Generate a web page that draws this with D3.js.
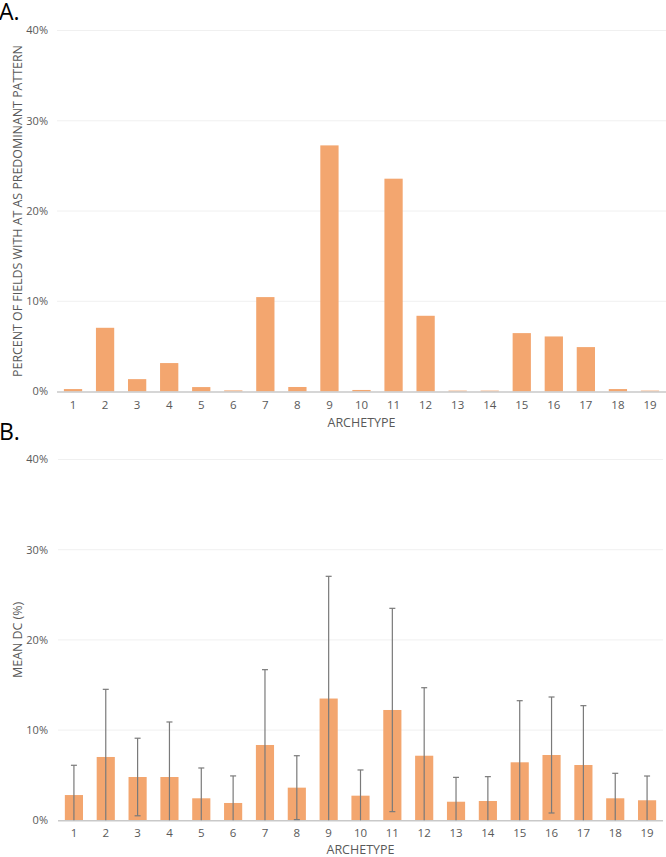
<!DOCTYPE html>
<html><head><meta charset="utf-8">
<script src="https://cdn.jsdelivr.net/npm/d3@7"></script>
<style>body{margin:0;background:#fff}svg{display:block;font-family:"Open Sans",sans-serif}</style>
</head><body>
<svg id="c" width="666" height="857"></svg>
<script>
const archetypes = ["1","2","3","4","5","6","7","8","9","10","11","12","13","14","15","16","17","18","19"];
const pctFields = [0.27,7.06,1.37,3.15,0.49,0.12,10.46,0.5,27.27,0.17,23.58,8.39,0.1,0.1,6.47,6.1,4.92,0.27,0.1];
const meanDC = [2.8,7.02,4.8,4.8,2.44,1.92,8.35,3.62,13.5,2.73,12.23,7.16,2.06,2.14,6.43,7.24,6.13,2.44,2.22];
const errDC = [3.3,7.5,4.3,6.1,3.36,3.0,8.35,3.54,13.55,2.85,11.27,7.54,2.7,2.7,6.83,6.43,6.58,2.77,2.69];
const yTicks = [0,10,20,30,40];

const svg = d3.select("#c");
const barColor = "#F3A66F";

function panel(opt){
  const x = d3.scaleBand().domain(archetypes).range([opt.x0, opt.x1]).paddingInner(0.43).paddingOuter(0.215);
  const y = d3.scaleLinear().domain([0,40]).range([opt.y0, opt.y1]);
  const g = svg.append("g");
  g.selectAll("line.grid").data(yTicks.slice(1)).join("line")
    .attr("x1", opt.x0).attr("x2", opt.x1)
    .attr("y1", d=>y(d)).attr("y2", d=>y(d))
    .attr("stroke","#f0f0f0").attr("stroke-width",1);
  g.selectAll("text.yt").data(yTicks).join("text")
    .attr("x", 48).attr("y", d=>y(d)).attr("dy","0.35em")
    .attr("text-anchor","end").attr("font-size",11).attr("fill","#595959")
    .text(d=>d+"%");
  g.selectAll("rect").data(opt.values).join("rect")
    .attr("x",(d,i)=>x(archetypes[i])).attr("width",x.bandwidth())
    .attr("y",d=>y(d)).attr("height",d=>y(0)-y(d))
    .attr("fill",barColor);
  g.append("line").attr("x1",opt.x0).attr("x2",opt.x1).attr("y1",y(0)+0.5).attr("y2",y(0)+0.5)
    .attr("stroke","#c9c9c9").attr("stroke-width",1.5);
  if(opt.errs){
    const eg = g.selectAll("g.err").data(opt.values).join("g");
    eg.each(function(d,i){
      const cx = x(archetypes[i]) + x.bandwidth()/2;
      const hi = d + opt.errs[i], lo = Math.max(0, d - opt.errs[i]);
      const s = d3.select(this);
      s.append("line").attr("x1",cx).attr("x2",cx).attr("y1",y(hi)).attr("y2",y(lo))
        .attr("stroke","#7a7a7a").attr("stroke-width",1.2);
      s.append("line").attr("x1",cx-3).attr("x2",cx+3).attr("y1",y(hi)).attr("y2",y(hi))
        .attr("stroke","#7a7a7a").attr("stroke-width",1.2);
      if(d - opt.errs[i] > 0.05){
        s.append("line").attr("x1",cx-3).attr("x2",cx+3).attr("y1",y(lo)).attr("y2",y(lo))
          .attr("stroke","#7a7a7a").attr("stroke-width",1.2);
      }
    });
  }
  g.selectAll("text.xt").data(archetypes).join("text")
    .attr("x",d=>x(d)+x.bandwidth()/2).attr("y",opt.tickY).attr("dy","0.35em")
    .attr("text-anchor","middle").attr("font-size",11.5).attr("fill","#595959").text(d=>d);
  g.append("text").attr("x",(opt.x0+opt.x1)/2).attr("y",opt.titleY).attr("dy","0.35em")
    .attr("text-anchor","middle").attr("font-size",12.5).attr("fill","#595959").text("ARCHETYPE");
  g.append("text").attr("transform",`translate(18,${(opt.y0+opt.y1)/2}) rotate(-90)`)
    .attr("text-anchor","middle").attr("dy","0.35em").attr("font-size",12.4).attr("fill","#595959")
    .text(opt.yTitle);
  svg.append("text").attr("x",-1).attr("y",opt.labelY).attr("font-size",23).attr("fill","#000").text(opt.label);
}

panel({x0:57,x1:666,y0:391.5,y1:30.5,values:pctFields,tickY:405,titleY:423,
  yTitle:"PERCENT OF FIELDS  WITH AT AS PREDOMINANT PATTERN",label:"A.",labelY:20});
panel({x0:58,x1:663,y0:820.3,y1:459.5,values:meanDC,errs:errDC,tickY:833,titleY:850,
  yTitle:"MEAN DC (%)",label:"B.",labelY:440});
</script>
</body></html>
